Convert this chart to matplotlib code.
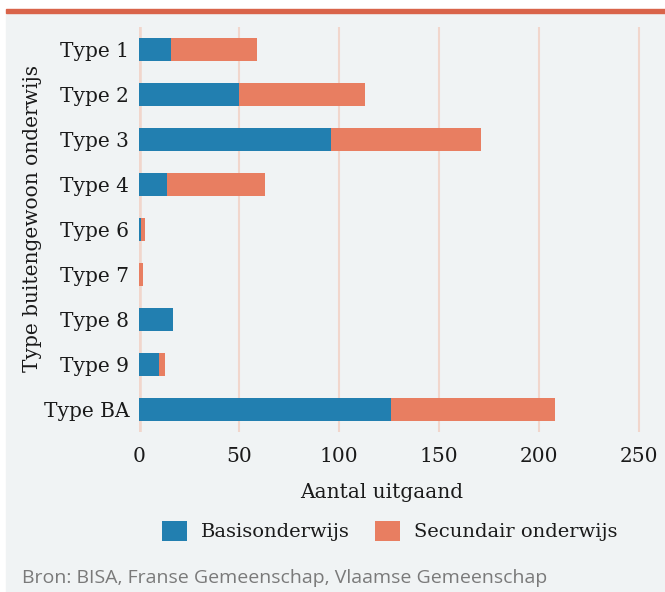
import matplotlib.pyplot as plt
from matplotlib.patches import Rectangle

types = ["Type 1", "Type 2", "Type 3", "Type 4", "Type 6", "Type 7", "Type 8", "Type 9", "Type BA"]
basis = [16, 50, 96, 14, 1, 0, 17, 10, 126]
secundair = [43, 63, 75, 49, 2, 2, 0, 3, 82]
xticks = [0, 50, 100, 150, 200, 250]

blue = "#227fb0"
orange = "#e87e61"
bg = "#f0f3f4"
grid = "#f1d6cc"
ink = "#1a1a1a"
serif = ["DejaVu Serif"]

W, H = 665, 592
fig = plt.figure(figsize=(W / 100, H / 100), dpi=100)
fig.patch.set_facecolor("white")
fig.patches.append(Rectangle((6 / W, 0), 1, 1 - 13 / H, transform=fig.transFigure,
                             color=bg, zorder=-10))
fig.patches.append(Rectangle((6 / W, 1 - 13 / H), 1, 3.5 / H, transform=fig.transFigure,
                             color="#d9644a", zorder=-10))

ax = fig.add_axes([139 / W, 1 - 432 / H, 524 / W, 405 / H])
ax.set_facecolor(bg)
y = list(range(len(types)))
ax.barh(y, basis, height=0.51, color=blue, zorder=3, label="Basisonderwijs")
ax.barh(y, secundair, left=basis, height=0.51, color=orange, zorder=3,
        label="Secundair onderwijs")

ax.set_xlim(0, 262)
ax.set_ylim(len(types) - 0.5, -0.5)
ax.set_xticks(xticks)
ax.set_yticks(y)
ax.set_yticklabels(types)
for v in xticks:
    ax.axvline(v, color=grid, lw=4 if v == 0 else 1.5, zorder=1)
for s in ax.spines.values():
    s.set_visible(False)
ax.tick_params(length=0, colors=ink, labelsize=14.5)
ax.tick_params(axis="y", pad=7)
ax.tick_params(axis="x", pad=11)
for lab in ax.get_xticklabels() + ax.get_yticklabels():
    lab.set_family(serif)

fig.text(382 / W, 1 - 493 / H, "Aantal uitgaand", ha="center", va="center",
         fontsize=14.5, color=ink, family=serif)
fig.text(33 / W, 1 - 218 / H, "Type buitengewoon onderwijs", ha="center", va="center",
         rotation=90, fontsize=14.5, color=ink, family=serif)

leg = fig.legend(loc="center", bbox_to_anchor=(390 / W, 1 - 531 / H), ncol=2,
                 frameon=False, handlelength=1.25, handleheight=1.25,
                 handletextpad=0.75, columnspacing=1.3,
                 prop={"family": serif, "size": 14})
for t in leg.get_texts():
    t.set_color(ink)

fig.text(22 / W, 1 - 578 / H, "Bron: BISA, Franse Gemeenschap, Vlaamse Gemeenschap",
         ha="left", va="center", fontsize=14, color="#7a7a7a",
         family=["Open Sans", "DejaVu Sans"])

fig.savefig("out.png", dpi=100, facecolor=fig.get_facecolor())
